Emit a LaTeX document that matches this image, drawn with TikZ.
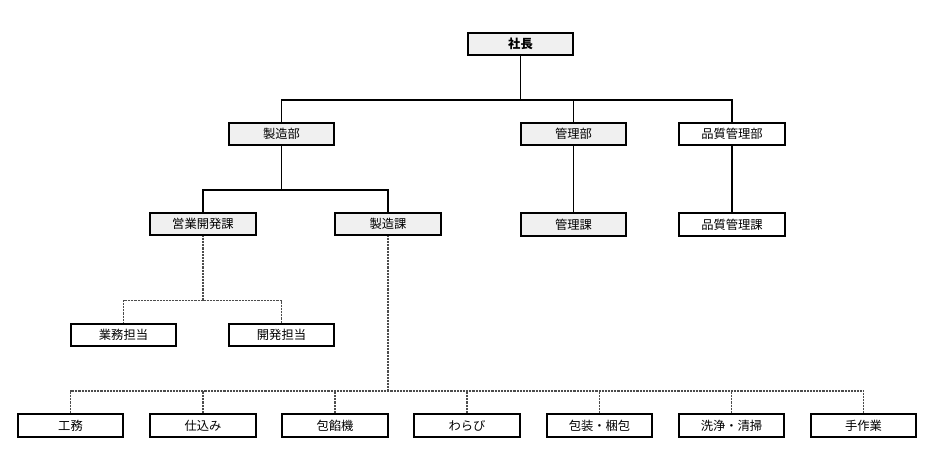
\documentclass[tikz,border=0pt]{standalone}
\usepackage{fontspec}
\setmainfont{Noto Sans CJK JP}
\usetikzlibrary{shadows}
\definecolor{boxgray}{HTML}{F0F0F0}
\tikzset{
	unit/.style={draw, line width=1.9pt, minimum width=3.16cm, minimum height=.67cm, inner sep=0pt,
		font=\fontsize{10.5}{12}\selectfont,
		drop shadow={shadow xshift=1.1pt, shadow yshift=-1.1pt, opacity=1, fill=black}},
	graybox/.style={unit, fill=boxgray},
	whitebox/.style={unit, fill=white},
	solidline/.style={line width=1.6pt},
	dotline/.style={line width=1.3pt, black!70, dash pattern=on .8pt off .45pt}
}
\begin{document}
\begin{tikzpicture}[x=.03cm, y=-.03cm]
	\useasboundingbox (0,0) rectangle (932,457);
	% boxes
	\node[graybox, font=\fontsize{10.5}{12}\selectfont\bfseries] (shacho) at (520.5,44) {社長};
	\node[graybox] (seizobu) at (281.5,134) {製造部};
	\node[graybox] (kanribu) at (573.5,134) {管理部};
	\node[whitebox] (hinshitsubu) at (732,134) {品質管理部};
	\node[graybox] (eigyo) at (203,224) {営業開発課};
	\node[graybox] (seizoka) at (388,224) {製造課};
	\node[graybox] (kanrika) at (573.5,224.5) {管理課};
	\node[whitebox] (hinshitsuka) at (732,224.5) {品質管理課};
	\node[whitebox] (gyomu) at (123.5,335) {業務担当};
	\node[whitebox] (kaihatsu) at (281.5,335) {開発担当};
	\node[whitebox] (komu) at (70.5,425.5) {工務};
	\node[whitebox] (shikomi) at (203,425.5) {仕込み};
	\node[whitebox] (houan) at (335,425.5) {包餡機};
	\node[whitebox] (warabi) at (467,425.5) {わらび};
	\node[whitebox] (housou) at (599.5,425.5) {包装・梱包};
	\node[whitebox] (senjou) at (731.5,425.5) {洗浄・清掃};
	\node[whitebox] (tesagyo) at (863.5,425.5) {手作業};
	% bus points
	\coordinate (bus1) at (520.5,100);
	\coordinate (bus2) at (281.5,190);
	\coordinate (bus3) at (203,300.5);
	\coordinate (bus4) at (388,391);
	% connectors
	\draw[solidline] (shacho) -- (bus1);
	\draw[solidline] (seizobu.north) |- (bus1) -| (hinshitsubu.north);
	\draw[solidline] (kanribu.north) -- (kanribu.north |- bus1);
	\draw[solidline] (kanribu) -- (kanrika);
	\draw[solidline] (hinshitsubu) -- (hinshitsuka);
	\draw[solidline] (seizobu) -- (bus2);
	\draw[solidline] (eigyo.north) |- (bus2) -| (seizoka.north);
	\draw[dotline] (eigyo) -- (bus3);
	\draw[dotline] (gyomu.north) |- (bus3) -| (kaihatsu.north);
	\draw[dotline] (seizoka) -- (bus4);
	\draw[dotline] (komu.north) |- (bus4) -| (tesagyo.north);
	\foreach \n in {shikomi,houan,warabi,housou,senjou}
		\draw[dotline] (\n.north) -- (\n.north |- bus4);
\end{tikzpicture}
\end{document}
